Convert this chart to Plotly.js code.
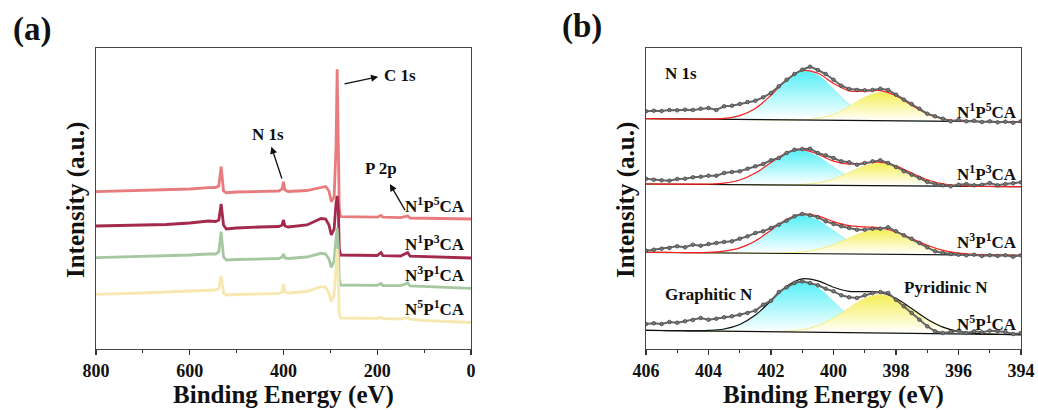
<!DOCTYPE html>
<html><head><meta charset="utf-8">
<script src="https://cdn.plot.ly/plotly-3.0.1.min.js"></script>
<style>html,body{margin:0;padding:0;background:#fff;} #chart{width:1038px;height:410px;}</style>
</head><body><div id="chart"></div>
<script>
// ---------- Panel (a): XPS survey spectra (stacked, arbitrary units) ----------
const surveyE = [800,750,700,650,600,560,545,538,533,528,522,500,450,410,403,400,397,390,350,320,310,303,298,292,288,285.5,283,281,278,250,200,192,188,150,135,130,100,50,0];
const surveyNames = ['N<sup>1</sup>P<sup>5</sup>CA','N<sup>1</sup>P<sup>3</sup>CA','N<sup>3</sup>P<sup>1</sup>CA','N<sup>5</sup>P<sup>1</sup>CA'];
const survey_N1P5 = [157.3,157.8,158.3,159.0,160.0,161.3,161.5,163.0,182.3,158.0,156.3,157.0,157.5,158.0,160.0,167.3,159.0,157.5,158.5,162.0,162.5,158.0,147.3,152.0,200.0,279.7,200.0,140.0,132.3,132.0,131.8,133.5,131.8,131.3,133.0,131.0,130.8,130.5,130.0];
const survey_N1P3 = [123.0,123.5,124.0,124.5,126.0,128.0,127.5,129.0,145.0,124.0,120.0,121.0,122.0,122.5,124.0,129.0,123.0,122.0,124.0,130.5,130.0,124.0,114.0,120.0,145.0,153.0,140.0,100.0,94.0,93.8,93.5,96.5,93.3,93.0,96.5,92.8,92.3,91.8,91.0];
const survey_N3P1 = [91.3,91.8,92.3,93.0,94.0,95.0,95.0,97.0,117.3,92.0,89.0,89.5,90.0,90.5,92.0,95.0,91.0,90.5,92.0,95.7,95.0,90.0,81.7,88.0,110.0,121.0,100.0,70.0,64.0,64.0,63.7,65.5,63.5,63.3,66.0,63.0,62.3,61.5,60.7];
const survey_N5P1 = [54.7,55.2,56.0,57.0,58.0,59.0,59.0,60.5,73.0,56.0,54.0,54.5,55.0,55.5,57.0,65.0,57.0,56.0,57.5,62.3,62.0,56.0,47.3,54.0,80.0,100.0,70.0,35.0,31.0,31.0,30.7,31.8,30.5,30.0,31.5,29.8,28.5,27.5,26.5];
const surveySeries = [survey_N1P5, survey_N1P3, survey_N3P1, survey_N5P1];
const surveyColors = ['#e87b7d','#a3294d','#a6c8a0','#f7e8b2'];
const surveyTicks = [800, 600, 400, 200, 0];

// ---------- Panel (b): N 1s high-resolution spectra ----------
const fitE = [406,405.5,405,404.5,404,403.5,403,402.5,402,401.5,401,400.5,400,399.5,399,398.5,398,397.5,397,396.5,396,395.5,395,394.5,394];
const rawE = [406,405.75,405.5,405.25,405,404.75,404.5,404.25,404,403.75,403.5,403.25,403,402.75,402.5,402.25,402,401.75,401.5,401.25,401,400.75,400.5,400.25,400,399.75,399.5,399.25,399,398.75,398.5,398.25,398,397.75,397.5,397.25,397,396.75,396.5,396.25,396,395.75,395.5,395.25,395,394.75,394.5,394.25,394];
const hrTicks = [406, 404, 402, 400, 398, 396, 394];

// background lines
const bg_N1P5 = [230.3,230.2,230.0,229.9,229.8,229.6,229.5,229.3,229.2,229.1,228.9,228.8,228.7,228.5,228.4,228.2,228.1,228.0,227.8,227.7,227.6,227.4,227.3,227.1,227.0];
const bg_N1P3 = [165.0,164.9,164.8,164.7,164.6,164.4,164.3,164.2,164.1,164.0,163.9,163.8,163.7,163.5,163.4,163.3,163.2,163.1,163.0,162.9,162.8,162.6,162.5,162.4,162.3];
const bg_N3P1 = [96.7,96.6,96.5,96.3,96.2,96.1,96.0,95.8,95.7,95.6,95.5,95.3,95.2,95.1,95.0,94.8,94.7,94.6,94.5,94.3,94.2,94.1,94.0,93.8,93.7];
const bg_N5P1 = [18.7,18.5,18.3,18.1,18.0,17.8,17.6,17.4,17.2,17.1,16.9,16.7,16.5,16.3,16.1,16.0,15.8,15.6,15.4,15.2,15.1,14.9,14.7,14.5,14.3];

// graphitic N component (height above background)
const graphitic_N1P5 = [0,0,0,0,0.2,1.0,3.9,11.3,24.6,40.2,49.2,45.1,31.0,15.9,6.1,1.8,0.4,0.1,0,0,0,0,0,0,0];
const graphitic_N1P3 = [0,0,0,0.1,0.3,1.4,4.7,11.8,22.3,32.0,34.8,28.7,17.9,8.5,3.0,0.8,0.2,0,0,0,0,0,0,0,0];
const graphitic_N3P1 = [0,0,0,0.1,0.4,1.7,5.1,12.3,23.0,33.5,38.0,33.5,23.0,12.3,5.1,1.7,0.4,0.1,0,0,0,0,0,0,0];
const graphitic_N5P1 = [0,0,0,0.1,0.6,2.2,6.9,16.5,30.8,44.8,50.8,44.8,30.8,16.5,6.9,2.2,0.6,0.1,0,0,0,0,0,0,0];

// pyridinic N component (height above background)
const pyridinic_N1P5 = [0,0,0,0,0,0,0,0,0,0,0.4,1.8,5.9,13.8,23.3,28.4,24.9,15.7,7.2,2.4,0.6,0.1,0,0,0];
const pyridinic_N1P3 = [0,0,0,0,0,0,0,0,0,0.1,0.7,2.3,6.3,12.9,19.7,22.7,19.7,12.9,6.3,2.3,0.7,0.1,0,0,0];
const pyridinic_N3P1 = [0,0,0,0,0,0,0,0,0.1,0.5,1.6,4.3,9.2,15.9,22.0,24.5,22.0,15.9,9.2,4.3,1.6,0.5,0.1,0,0];
const pyridinic_N5P1 = [0,0,0,0,0,0,0,0,0.2,0.8,2.5,6.7,14.4,24.8,34.4,38.3,34.4,24.8,14.4,6.7,2.5,0.8,0.2,0,0];

// measured points
const raw_N1P5 = [237.7,238.3,238.0,239.0,238.7,239.3,239.0,240.3,241.0,239.0,242.7,243.3,245.0,247.0,248.3,251.7,256.0,262.7,269.3,275.0,279.3,282.3,279.0,275.0,269.3,263.3,260.0,259.0,258.7,259.0,260.3,259.0,254.3,249.3,245.0,240.3,235.3,232.7,230.3,227.7,229.0,227.7,228.3,227.0,227.7,226.7,227.3,226.3,227.7];
const raw_N1P3 = [170.3,169.3,168.7,168.3,170.0,170.3,171.7,172.3,173.3,173.3,176.0,177.0,177.7,180.3,182.7,185.0,188.7,191.0,196.0,199.3,200.0,200.3,196.0,193.7,191.0,187.7,186.7,184.3,186.0,187.7,188.7,186.0,182.0,177.7,174.3,171.0,167.0,165.0,163.7,162.7,164.3,165.0,163.7,164.3,166.0,163.7,165.0,165.7,166.7];
const raw_N3P1 = [98.3,99.3,100.3,101.0,102.7,101.7,104.3,103.3,105.0,106.0,107.0,107.7,110.3,112.7,116.0,117.7,121.0,124.3,128.3,132.7,135.0,133.7,131.7,127.7,125.0,122.7,121.0,119.3,119.3,120.3,120.3,121.7,117.7,113.7,110.3,106.0,101.7,97.7,96.0,95.0,94.3,93.7,94.3,93.0,93.7,93.0,93.7,92.3,93.7];
const raw_N5P1 = [25.0,25.7,25.0,27.0,26.3,27.7,29.0,31.0,29.3,30.3,31.7,32.7,34.3,36.0,38.3,44.3,48.3,57.0,61.7,66.0,67.7,66.0,63.7,60.3,57.7,53.7,51.7,51.0,53.7,56.0,57.0,56.0,49.3,42.7,36.0,29.3,22.7,17.7,16.0,17.0,18.3,16.0,17.7,16.7,18.3,17.7,17.0,15.0,16.0];

const hrSets = [
  {bg: bg_N1P5, g: graphitic_N1P5, p: pyridinic_N1P5, raw: raw_N1P5, env: '#ff1f1f'},
  {bg: bg_N1P3, g: graphitic_N1P3, p: pyridinic_N1P3, raw: raw_N1P3, env: '#ff1f1f'},
  {bg: bg_N3P1, g: graphitic_N3P1, p: pyridinic_N3P1, raw: raw_N3P1, env: '#ff1f1f'},
  {bg: bg_N5P1, g: graphitic_N5P1, p: pyridinic_N5P1, raw: raw_N5P1, env: '#111111'}
];

const FONT = 'Liberation Serif';
const traces = [];

// panel (a)
surveySeries.forEach((s, i) => {
  traces.push({type: 'scatter', mode: 'lines', x: surveyE, y: s, name: surveyNames[i],
    xaxis: 'x', yaxis: 'y', line: {color: surveyColors[i], width: 2.8}, hoverinfo: 'skip'});
});

// panel (b)
hrSets.forEach(d => {
  const gy = d.bg.map((b, k) => b + d.g[k]);
  const py = d.bg.map((b, k) => b + d.p[k]);
  const ey = d.bg.map((b, k) => b + d.g[k] + d.p[k]);
  traces.push({type:'scatter', mode:'lines', x: fitE, y: d.bg, xaxis:'x2', yaxis:'y2', line:{width:0, color:'rgba(0,0,0,0)'}, hoverinfo:'skip'});
  traces.push({type:'scatter', mode:'lines', x: fitE, y: gy, xaxis:'x2', yaxis:'y2', fill:'tonexty',
    fillgradient:{type:'vertical', colorscale:[[0,'#ffffff'],[0.12,'#f3feff'],[1,'#55eff7']]},
    line:{color:'#8ff3f7', width:1, shape:'spline'}, hoverinfo:'skip'});
  traces.push({type:'scatter', mode:'lines', x: fitE, y: d.bg, xaxis:'x2', yaxis:'y2', line:{width:0, color:'rgba(0,0,0,0)'}, hoverinfo:'skip'});
  traces.push({type:'scatter', mode:'lines', x: fitE, y: py, xaxis:'x2', yaxis:'y2', fill:'tonexty',
    fillgradient:{type:'vertical', colorscale:[[0,'#ffffff'],[0.12,'#fffef0'],[1,'#f5ef55']]},
    line:{color:'#f3ee88', width:1, shape:'spline'}, hoverinfo:'skip'});
  traces.push({type:'scatter', mode:'lines', x: fitE, y: d.bg, xaxis:'x2', yaxis:'y2', line:{color:'#111', width:1.2}, hoverinfo:'skip'});
  traces.push({type:'scatter', mode:'lines', x: fitE, y: ey, xaxis:'x2', yaxis:'y2', line:{color:d.env, width:1.2, shape:'spline'}, hoverinfo:'skip'});
  traces.push({type:'scatter', mode:'lines+markers', x: rawE, y: d.raw, xaxis:'x2', yaxis:'y2',
    line:{color:'#666666', width:2}, marker:{size:3.6, color:'#7a7a7a', line:{color:'#444444', width:0.8}}, hoverinfo:'skip'});
});

const tickF = {family: FONT, size: 18, color: '#111'};
const titleF = {family: FONT, size: 25, color: '#111'};
const axCommon = {showline:true, linecolor:'#444', linewidth:1.3, mirror:true, showgrid:false, zeroline:false,
  ticks:'outside', ticklen:5, tickwidth:1.3, tickcolor:'#333', tickfont: tickF, tickmode:'array'};

const layout = {
  width: 1038, height: 410, showlegend: false,
  paper_bgcolor: '#fff', plot_bgcolor: '#fff',
  font: {family: FONT, color: '#111'},
  margin: {l: 96, r: 17, t: 48, b: 61},
  xaxis: Object.assign({}, axCommon, {domain:[0,0.4054], range:[800,0], anchor:'y',
    tickvals: surveyTicks, ticktext: surveyTicks.map(v => '<b>' + v + '</b>'),
    minor:{tick0:0, dtick:100, ticks:'outside', ticklen:3, tickwidth:1.2, tickcolor:'#333'},
    title:{text:'<b>Binding Energy (eV)</b>', font: titleF, standoff: 0}}),
  yaxis: {domain:[0,1], range:[0,301], showticklabels:false, ticks:'', showline:true, mirror:true,
    linecolor:'#444', linewidth:1.3, showgrid:false, zeroline:false, anchor:'x'},
  xaxis2: Object.assign({}, axCommon, {domain:[0.5946,1], range:[406,394], anchor:'y2',
    tickvals: hrTicks, ticktext: hrTicks.map(v => '<b>' + v + '</b>'),
    minor:{tick0:394, dtick:1, ticks:'outside', ticklen:3, tickwidth:1.2, tickcolor:'#333'},
    title:{text:'<b>Binding Energy (eV)</b>', font: titleF, standoff: 0}}),
  yaxis2: {domain:[0,1], range:[0,301], showticklabels:false, ticks:'', showline:true, mirror:true,
    linecolor:'#444', linewidth:1.3, showgrid:false, zeroline:false, anchor:'x2'},
  annotations: []
};

const A = layout.annotations;
const txt = (text, x, y, xref, yref, extra) => A.push(Object.assign({text: text, x: x, y: y, xref: xref, yref: yref,
  showarrow: false, font: {family: FONT, size: 17, color: '#111'}, xanchor: 'center', yanchor: 'middle'}, extra || {}));
const arrow = (x, y, ax, ay) => A.push({text: '', x: x, y: y, ax: ax, ay: ay, xref: 'x', yref: 'y', axref: 'x', ayref: 'y',
  showarrow: true, arrowhead: 2, arrowsize: 1.1, arrowwidth: 1.3, arrowcolor: '#111', standoff: 0, startstandoff: 0});

// panel labels and y titles
txt('<b>(a)</b>', -0.0692, 1.06, 'paper', 'paper', {font:{family:FONT, size:33, color:'#111'}});
txt('<b>(b)</b>', 0.5249, 1.07, 'paper', 'paper', {font:{family:FONT, size:33, color:'#111'}});
txt('<b>Intensity (a.u.)</b>', -0.0216, 0.495, 'paper', 'paper', {textangle:-90, font: titleF});
txt('<b>Intensity (a.u.)</b>', 0.573, 0.495, 'paper', 'paper', {textangle:-90, font: titleF});

// panel (a) peak labels
txt('<b>C 1s</b>', 152, 274, 'x', 'y');
arrow(198, 272.3, 273, 264.7);
txt('<b>N 1s</b>', 433, 215, 'x', 'y');
arrow(425.9, 202.3, 402.4, 169);
txt('<b>P 2p</b>', 193, 180.7, 'x', 'y');
arrow(173.1, 165, 138.9, 137.3);
const surveyLabelY = [144, 105.7, 74.7, 41.3];
surveyNames.forEach((n, i) => txt('<b>' + n + '</b>', 8.5, surveyLabelY[i], 'x', 'y', {xanchor:'right'}));

// panel (b) labels
txt('<b>N 1s</b>', 405.46, 276, 'x2', 'y2', {xanchor:'left'});
const hrLabelY = [237.7, 176, 107.7, 26];
surveyNames.forEach((n, i) => txt('<b>' + n + '</b>', 394.05, hrLabelY[i], 'x2', 'y2', {xanchor:'right'}));
txt('<b>Graphitic N</b>', 405.46, 54.3, 'x2', 'y2', {xanchor:'left'});
txt('<b>Pyridinic N</b>', 397.8, 61.7, 'x2', 'y2', {xanchor:'left'});

Plotly.newPlot('chart', traces, layout, {displayModeBar: false, staticPlot: true});
</script></body></html>
